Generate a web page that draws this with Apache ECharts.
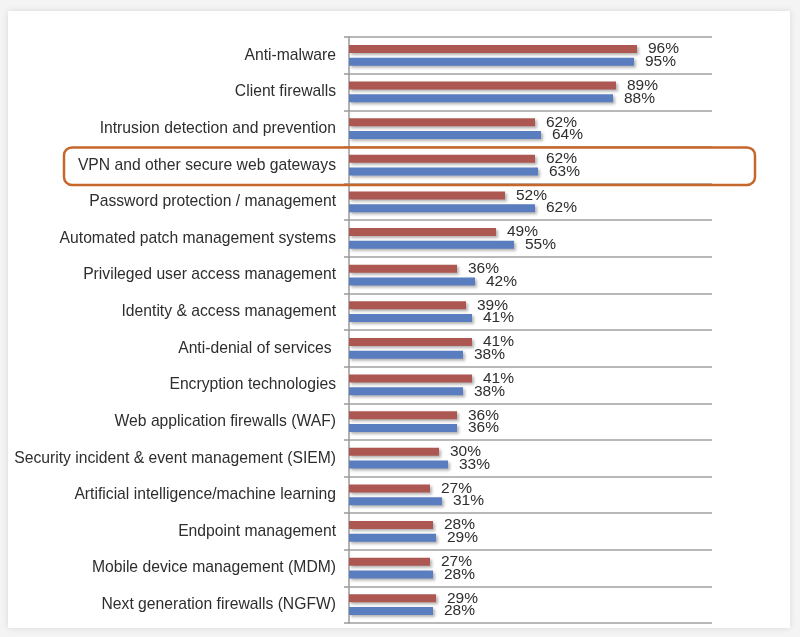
<!DOCTYPE html>
<html>
<head>
<meta charset="utf-8">
<script src="https://cdn.jsdelivr.net/npm/echarts@6/dist/echarts.min.js"></script>
<style>
html,body{margin:0;padding:0;background:#f4f4f4;}
#chart{width:800px;height:637px;}
</style>
</head>
<body>
<div id="chart"></div>
<script>
const categories = [
  'Anti-malware',
  'Client firewalls',
  'Intrusion detection and prevention',
  'VPN and other secure web gateways',
  'Password protection / management',
  'Automated patch management systems',
  'Privileged user access management',
  'Identity & access management',
  'Anti-denial of services ',
  'Encryption technologies',
  'Web application firewalls (WAF)',
  'Security incident & event management (SIEM)',
  'Artificial intelligence/machine learning',
  'Endpoint management',
  'Mobile device management (MDM)',
  'Next generation firewalls (NGFW)'
];
const seriesRed = [96, 89, 62, 62, 52, 49, 36, 39, 41, 41, 36, 30, 27, 28, 27, 29];
const seriesBlue = [95, 88, 64, 63, 62, 55, 42, 41, 38, 38, 36, 33, 31, 29, 28, 28];
const highlightIndex = 3;

const chart = echarts.init(document.getElementById('chart'));
const labelStyle = {
  show: true,
  position: 'right',
  distance: 11,
  formatter: '{c}%',
  fontFamily: 'Liberation Sans, Arial, sans-serif',
  fontSize: 15.5,
  color: '#2e2e2e'
};
const option = {
  animation: false,
  backgroundColor: 'transparent',
  grid: { left: 349, right: 88, top: 37, bottom: 14, containLabel: false },
  xAxis: {
    type: 'value', min: 0, max: 121,
    axisLine: { show: false }, axisTick: { show: false },
    axisLabel: { show: false }, splitLine: { show: false }
  },
  yAxis: {
    type: 'category', inverse: true, data: categories,
    axisLine: { show: true, lineStyle: { color: '#9a9a9a', width: 1.5 } },
    axisTick: { show: true, length: 5, lineStyle: { color: '#9a9a9a', width: 1.5 } },
    splitLine: { show: true, lineStyle: { color: '#a0a0a0', width: 1.5 } },
    axisLabel: {
      margin: 13,
      fontFamily: 'Liberation Sans, Arial, sans-serif',
      fontSize: 15.7, color: '#2e2e2e'
    }
  },
  series: [
    {
      name: 'Red', type: 'bar', data: seriesRed, barWidth: 8, barGap: '58%',
      itemStyle: { color: '#ad5752', shadowColor: 'rgba(0,0,0,0.3)', shadowBlur: 3, shadowOffsetX: 2, shadowOffsetY: 2 },
      label: labelStyle
    },
    {
      name: 'Blue', type: 'bar', data: seriesBlue, barWidth: 8,
      itemStyle: { color: '#5a7dbf', shadowColor: 'rgba(0,0,0,0.3)', shadowBlur: 3, shadowOffsetX: 2, shadowOffsetY: 2 },
      label: labelStyle
    }
  ]
};
chart.setOption(option);

const yc = chart.convertToPixel({ yAxisIndex: 0 }, highlightIndex);
const y0 = chart.convertToPixel({ yAxisIndex: 0 }, 0);
const y1 = chart.convertToPixel({ yAxisIndex: 0 }, 1);
const band = Math.abs(y1 - y0);
chart.setOption({
  graphic: [
    {
      type: 'rect', z: -10, silent: true,
      shape: { x: 8, y: 11, width: 782, height: 617 },
      style: { fill: '#ffffff', shadowColor: 'rgba(0,0,0,0.12)', shadowBlur: 6 }
    },
    {
      type: 'rect', z: 100, silent: true,
      shape: { x: 64, y: yc - band / 2 + 0.5, width: 691, height: band + 1, r: 8 },
      style: { fill: 'none', stroke: '#c5662b', lineWidth: 2.5 }
    }
  ]
});
</script>
</body>
</html>
